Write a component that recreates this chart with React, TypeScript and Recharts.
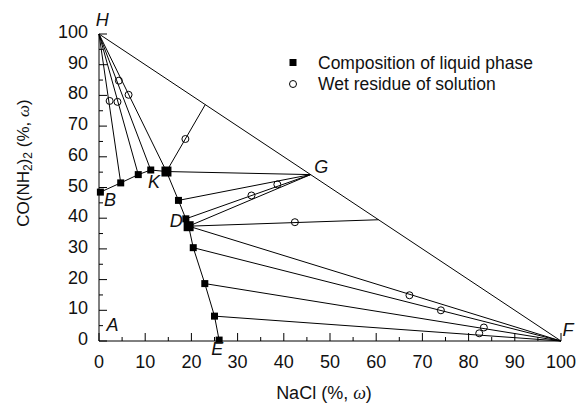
import React from 'react';
import {
  ScatterChart,
  Scatter,
  XAxis,
  YAxis,
  ReferenceLine,
  ReferenceDot,
} from 'recharts';

// liquid phase compositions along the solubility curve, B ... E
const LIQ_X = [0.3, 4.7, 8.5, 11.2, 14.6, 17.2, 18.8, 19.4, 20.4, 22.9, 25.0, 26.0];
const LIQ_Y = [48.5, 51.5, 54.2, 55.7, 55.2, 45.8, 39.8, 37.4, 30.4, 18.7, 8.1, 0.3];
const LIQ_BIG = [4, 7];

// wet residues
const WET_X = [2.3, 4.0, 4.3, 6.4, 18.7, 33.0, 38.6, 42.4, 67.2, 74.0, 82.3, 83.3];
const WET_Y = [78.2, 77.9, 84.8, 80.2, 65.8, 47.4, 51.0, 38.7, 14.9, 10.0, 2.5, 4.4];

// pure / compound points
const H = [0, 100];
const F = [100, 0];
const G = [45.8, 54.2];

// tie lines: liquid index -> apex
const H_TIES = [1, 2, 3, 4];
const G_TIES = [4, 5, 6, 7];
const F_TIES = [7, 8, 9, 10];
// tie lines ending on the H-F edge
const EDGE_FROM = [4, 7];
const EDGE_TO_X = [23.0, 60.5];
const EDGE_TO_Y = [77.0, 39.5];

const POINT_NAMES = ['H', 'A', 'B', 'K', 'D', 'G', 'E', 'F'];
const POINT_X = [0.7, 2.9, 2.4, 11.9, 16.7, 48.1, 25.6, 101.5];
const POINT_Y = [104.6, 5.2, 45.9, 51.8, 39.1, 56.7, -2.6, 3.6];

const X_TICKS = [0, 5, 10, 15, 20, 25, 30, 35, 40, 45, 50, 55, 60, 65, 70, 75, 80, 85, 90, 95, 100];
const Y_TICKS = X_TICKS;

const FONT = '"Liberation Sans", Arial, sans-serif';
const SERIF = '"Liberation Serif", "DejaVu Serif", serif';

const liquid = LIQ_X.map((x, i) => ({ x, y: LIQ_Y[i], big: LIQ_BIG.includes(i) }));
const wet = WET_X.map((x, i) => ({ x, y: WET_Y[i] }));

const ties: { x1: number; y1: number; x2: number; y2: number }[] = [
  ...H_TIES.map((i) => ({ x1: H[0], y1: H[1], x2: LIQ_X[i], y2: LIQ_Y[i] })),
  ...G_TIES.map((i) => ({ x1: G[0], y1: G[1], x2: LIQ_X[i], y2: LIQ_Y[i] })),
  ...F_TIES.map((i) => ({ x1: F[0], y1: F[1], x2: LIQ_X[i], y2: LIQ_Y[i] })),
  ...EDGE_FROM.map((i, k) => ({ x1: LIQ_X[i], y1: LIQ_Y[i], x2: EDGE_TO_X[k], y2: EDGE_TO_Y[k] })),
  { x1: H[0], y1: H[1], x2: F[0], y2: F[1] },
];

const XTick = (props: any) => {
  const { x, y, payload } = props;
  const major = payload.value % 10 === 0;
  return (
    <g>
      <line x1={x} x2={x} y1={y} y2={y - (major ? 8 : 4)} stroke="#000" />
      {major && (
        <text x={x} y={y + 21} textAnchor="middle" dominantBaseline="central" fontSize={18} fontFamily={FONT} fill="#111">
          {payload.value}
        </text>
      )}
    </g>
  );
};

const YTick = (props: any) => {
  const { x, y, payload } = props;
  const major = payload.value % 10 === 0;
  return (
    <g>
      <line x1={x} x2={x + (major ? 8 : 4)} y1={y} y2={y} stroke="#000" />
      {major && (
        <text x={x - 11} y={y - 2} textAnchor="end" dominantBaseline="central" fontSize={18} fontFamily={FONT} fill="#111">
          {payload.value}
        </text>
      )}
    </g>
  );
};

const Square = (props: any) => {
  const { cx, cy, payload } = props;
  const s = payload.big ? 10 : 7;
  return <rect x={cx - s / 2} y={cy - s / 2} width={s} height={s} fill="#000" />;
};

const Ring = (props: any) => {
  const { cx, cy } = props;
  return <circle cx={cx} cy={cy} r={3.5} fill="none" stroke="#000" strokeWidth={1} />;
};

const LegendBox = () => (
  <svg width={290} height={46} style={{ position: 'absolute', left: 285, top: 50 }}>
    <rect x={4.5} y={9} width={7} height={7} fill="#000" />
    <text x={33} y={12.5} dominantBaseline="central" fontSize={17.5} fontFamily={FONT} fill="#111">
      Composition of liquid phase
    </text>
    <circle cx={8} cy={34} r={3.5} fill="none" stroke="#000" />
    <text x={33} y={34} dominantBaseline="central" fontSize={17.5} fontFamily={FONT} fill="#111">
      Wet residue of solution
    </text>
  </svg>
);

export default function App() {
  return (
    <div style={{ position: 'absolute', left: 0, top: 0, width: 579, height: 405, background: '#fff' }}>
      <ScatterChart width={579} height={405} margin={{ top: 34, right: 18, bottom: 0, left: 0 }}>
        <XAxis
          type="number"
          dataKey="x"
          domain={[0, 100]}
          ticks={X_TICKS}
          interval={0}
          height={64}
          tickSize={0}
          tickMargin={0}
          stroke="#000"
          tick={<XTick />}
          label={{
            content: () => (
              <text x={324} y={393} textAnchor="middle" dominantBaseline="central" fontSize={18} fontFamily={FONT} fill="#111">
                NaCl (%, <tspan fontFamily={SERIF} fontStyle="italic">ω</tspan>)
              </text>
            ),
          }}
        />
        <YAxis
          type="number"
          dataKey="y"
          domain={[0, 100]}
          ticks={Y_TICKS}
          interval={0}
          width={99}
          tickSize={0}
          tickMargin={0}
          stroke="#000"
          tick={<YTick />}
          label={{
            content: () => (
              <text
                x={23}
                y={163}
                transform="rotate(-90 23 163)"
                textAnchor="middle"
                dominantBaseline="central"
                fontSize={17}
                fontFamily={FONT}
                fill="#111"
              >
                CO(NH<tspan dy={5} fontSize={12}>2</tspan>
                <tspan dy={-5}>)</tspan>
                <tspan dy={5} fontSize={12}>2</tspan>
                <tspan dy={-5}> (%, </tspan>
                <tspan fontFamily={SERIF} fontStyle="italic">ω</tspan>)
              </text>
            ),
          }}
        />
        {ties.map((t, i) => (
          <ReferenceLine
            key={i}
            segment={[
              { x: t.x1, y: t.y1 },
              { x: t.x2, y: t.y2 },
            ]}
            stroke="#000"
            strokeWidth={1}
            ifOverflow="visible"
          />
        ))}
        <Scatter
          data={liquid}
          line={{ stroke: '#000', strokeWidth: 1 }}
          shape={<Square />}
          isAnimationActive={false}
        />
        <Scatter data={wet} shape={<Ring />} isAnimationActive={false} />
        {POINT_NAMES.map((n, i) => (
          <ReferenceDot
            key={n}
            x={POINT_X[i]}
            y={POINT_Y[i]}
            r={0}
            ifOverflow="visible"
            shape={(p: any) => (
              <text
                x={p.cx}
                y={p.cy}
                textAnchor="middle"
                dominantBaseline="central"
                fontSize={18}
                fontStyle="italic"
                fontFamily={FONT}
                fill="#111"
              >
                {n}
              </text>
            )}
          />
        ))}
      </ScatterChart>
      <LegendBox />
    </div>
  );
}
